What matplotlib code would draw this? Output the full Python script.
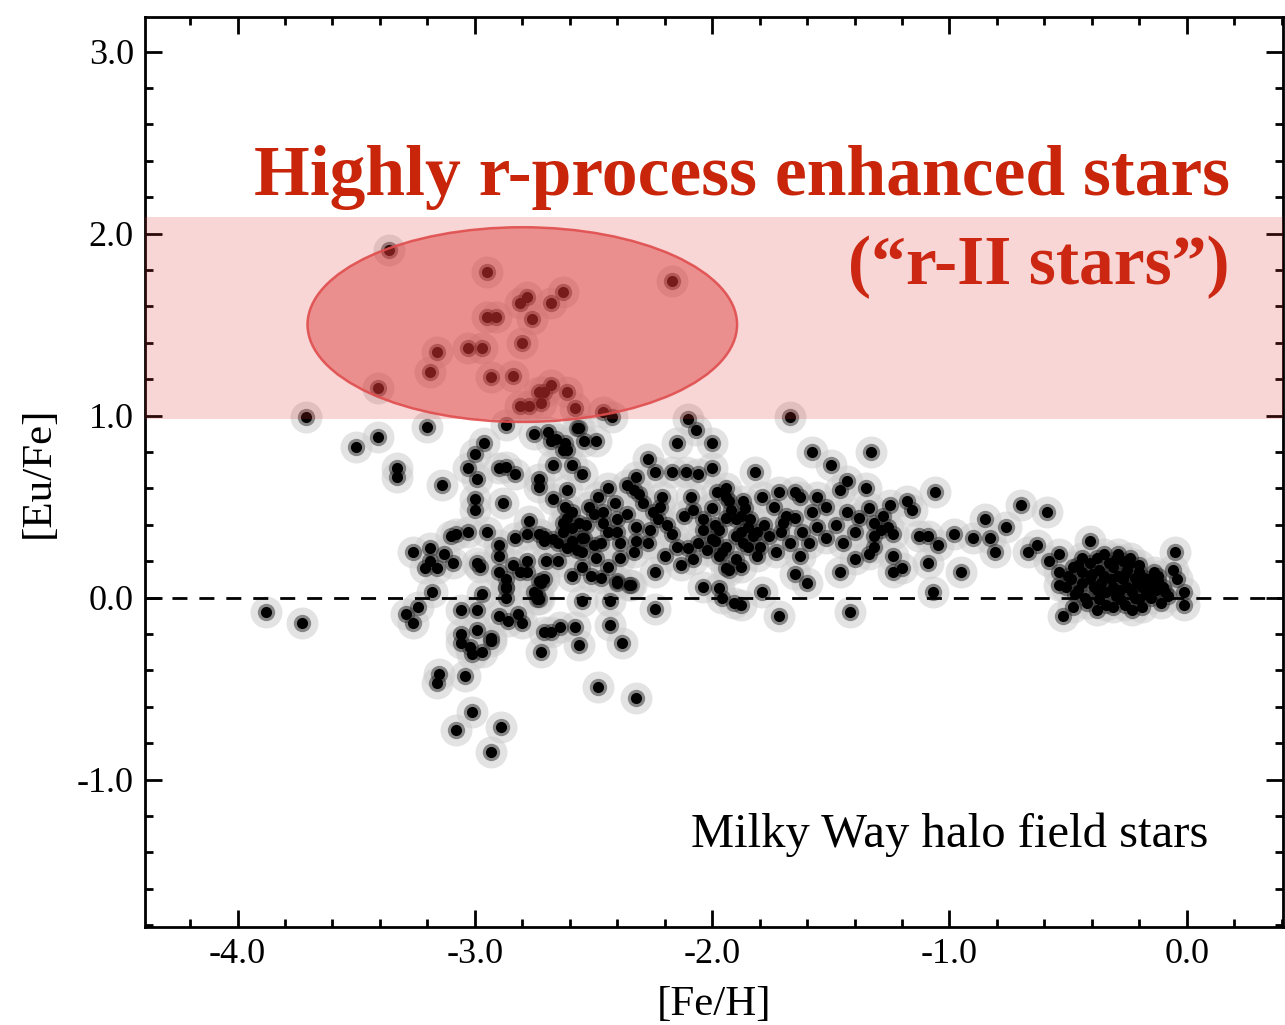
#! /usr/bin/env python
#
# [Eu/Fe] vs [Fe/H] for Milky Way halo field stars, with the r-II region highlighted
#
import numpy as np
import matplotlib
matplotlib.use('Agg')
from matplotlib import pyplot as plt
from matplotlib.patches import Ellipse
from matplotlib.ticker import MultipleLocator, FormatStrFormatter

plt.rcParams['font.family'] = ['Liberation Serif', 'DejaVu Serif']
plt.rcParams['axes.unicode_minus'] = False

# ([Fe/H], [Eu/Fe]) pairs
rII_stars = [(-3.36, 1.91), (-3.16, 1.35), (-3.19, 1.24), (-3.41, 1.15), (-3.03, 1.37),
             (-2.97, 1.37), (-2.95, 1.79), (-2.17, 1.74), (-2.78, 1.65), (-2.81, 1.62),
             (-2.63, 1.68), (-2.68, 1.62), (-2.95, 1.54), (-2.91, 1.54), (-2.76, 1.53),
             (-2.80, 1.40), (-2.93, 1.21), (-2.84, 1.22), (-2.73, 1.13), (-2.68, 1.17),
             (-2.71, 1.13), (-2.61, 1.13), (-2.81, 1.05), (-2.77, 1.05), (-2.72, 1.07),
             (-2.58, 1.04), (-2.46, 1.02), (-2.42, 0.99), (-1.67, 0.99), (-2.10, 0.98),
             (-3.71, 0.99)]

halo_metal_poor = [(-3.88, -0.08), (-3.73, -0.14), (-3.50, 0.83), (-3.41, 0.88), (-3.20, 0.94),
                   (-3.33, 0.71), (-3.33, 0.66), (-3.14, 0.62), (-3.08, 0.35), (-3.10, 0.34),
                   (-3.26, 0.25), (-3.19, 0.27), (-3.13, 0.24), (-3.09, 0.19), (-3.19, 0.20),
                   (-3.21, 0.16), (-3.16, 0.16), (-3.18, 0.03), (-3.24, -0.05), (-3.29, -0.09),
                   (-3.26, -0.14), (-3.06, -0.07), (-3.06, -0.20), (-3.06, -0.25), (-3.15, -0.42),
                   (-3.16, -0.47), (-3.04, -0.43), (-3.01, -0.63), (-3.08, -0.73), (-2.89, -0.71),
                   (-2.93, -0.85), (-2.48, -0.49), (-2.32, -0.55), (-2.99, -0.07), (-2.97, 0.02),
                   (-2.87, 0.05), (-2.87, 0.00), (-2.74, 0.02), (-2.74, -0.01), (-2.72, 0.08),
                   (-2.55, -0.02), (-2.43, -0.02), (-2.40, 0.08), (-2.34, 0.07), (-2.24, -0.06),
                   (-2.90, -0.10), (-2.86, -0.13), (-2.82, -0.09), (-2.80, -0.14), (-2.99, -0.18),
                   (-3.02, -0.27), (-3.01, -0.31), (-2.97, -0.30), (-2.93, -0.22), (-2.93, -0.24),
                   (-2.71, -0.19), (-2.68, -0.19), (-2.64, -0.16), (-2.58, -0.16), (-2.72, -0.30),
                   (-2.56, -0.26), (-2.43, -0.15), (-2.38, -0.25)]

halo_upper = [(-2.87, 0.95), (-2.75, 0.90), (-2.69, 0.91), (-2.68, 0.86), (-2.66, 0.87),
              (-2.62, 0.85), (-2.63, 0.81), (-2.61, 0.81), (-2.57, 0.93), (-2.56, 0.93),
              (-2.54, 0.86), (-2.49, 0.86), (-2.07, 0.92), (-2.15, 0.85), (-2.00, 0.85),
              (-2.27, 0.76), (-2.96, 0.85), (-3.00, 0.79), (-3.03, 0.71), (-2.90, 0.71),
              (-2.87, 0.72), (-2.83, 0.68), (-2.67, 0.73), (-2.59, 0.73), (-2.11, 0.69),
              (-2.00, 0.71), (-2.99, 0.65), (-2.73, 0.65), (-2.73, 0.61), (-2.55, 0.68),
              (-2.61, 0.59), (-2.67, 0.54), (-3.00, 0.54), (-3.00, 0.48), (-2.88, 0.52)]

halo_middle = [(-2.32, 0.66), (-2.36, 0.62), (-2.33, 0.59), (-2.31, 0.57), (-2.24, 0.69),
               (-2.17, 0.69), (-2.06, 0.68), (-2.21, 0.55), (-2.44, 0.60), (-2.48, 0.55),
               (-2.41, 0.52), (-2.52, 0.50), (-2.46, 0.47), (-2.59, 0.47), (-2.61, 0.44),
               (-2.63, 0.41), (-2.56, 0.41), (-2.59, 0.38), (-2.63, 0.36), (-2.50, 0.46),
               (-2.46, 0.41), (-2.40, 0.43), (-2.40, 0.36), (-2.44, 0.36), (-2.32, 0.39),
               (-2.25, 0.47), (-2.23, 0.43), (-2.26, 0.37), (-2.22, 0.50), (-1.94, 0.55),
               (-1.92, 0.48), (-1.94, 0.44), (-2.71, 0.34), (-2.67, 0.32), (-2.59, 0.31),
               (-2.55, 0.33), (-2.61, 0.27), (-2.55, 0.25), (-2.49, 0.22), (-2.39, 0.30),
               (-2.32, 0.31), (-2.33, 0.25), (-2.70, 0.20), (-2.55, 0.17), (-2.44, 0.17),
               (-2.39, 0.22), (-2.59, 0.12), (-2.51, 0.12), (-2.47, 0.11), (-2.40, 0.09),
               (-2.35, 0.07), (-2.71, 0.10), (-2.73, -0.01), (-2.24, 0.14), (-2.17, 0.35),
               (-2.15, 0.28), (-2.10, 0.27), (-2.13, 0.18), (-2.20, 0.23), (-1.99, 0.31),
               (-1.97, 0.23), (-1.93, 0.15), (-1.94, 0.28), (-1.90, 0.34), (-2.09, 0.55),
               (-2.08, 0.48), (-2.04, 0.43), (-2.04, 0.37), (-2.00, 0.49), (-1.98, 0.58),
               (-1.94, 0.60), (-1.93, 0.53), (-1.90, 0.43), (-1.84, 0.43), (-1.83, 0.34),
               (-1.81, 0.23), (-1.85, 0.28), (-1.97, 0.37), (-2.00, 0.32), (-1.96, 0.25),
               (-2.02, 0.26), (-2.08, 0.21), (-1.94, 0.16), (-1.90, 0.21), (-2.04, 0.06),
               (-1.97, 0.05), (-1.96, 0.00), (-1.91, -0.03), (-2.95, 0.36), (-3.03, 0.36),
               (-2.90, 0.29), (-2.90, 0.23), (-2.84, 0.18), (-2.81, 0.14), (-2.90, 0.14),
               (-2.87, 0.10), (-2.87, 0.06), (-2.78, 0.20), (-2.78, 0.14), (-2.73, 0.09),
               (-2.75, 0.03), (-2.99, 0.19), (-2.98, 0.17), (-2.77, 0.42), (-2.83, 0.33),
               (-2.78, 0.35), (-2.73, 0.35), (-2.71, 0.31), (-2.65, 0.30), (-2.59, 0.30),
               (-2.54, 0.33), (-2.57, 0.26), (-2.62, 0.50), (-2.53, 0.40), (-2.47, 0.30),
               (-2.36, 0.46), (-2.29, 0.52), (-2.27, 0.30), (-2.19, 0.40), (-2.12, 0.45),
               (-2.06, 0.30), (-1.99, 0.40), (-2.65, 0.20), (-2.50, 0.29)]

halo_metal_rich = [(-1.58, 0.80), (-1.50, 0.73), (-1.33, 0.80), (-1.82, 0.69), (-1.43, 0.64),
                   (-1.46, 0.59), (-1.35, 0.60), (-1.06, 0.58), (-1.87, 0.53), (-1.79, 0.55),
                   (-1.74, 0.50), (-1.72, 0.58), (-1.65, 0.58), (-1.63, 0.55), (-1.56, 0.55),
                   (-1.52, 0.50), (-1.58, 0.47), (-1.65, 0.44), (-1.69, 0.45), (-1.43, 0.47),
                   (-1.34, 0.49), (-1.25, 0.51), (-1.18, 0.53), (-1.16, 0.48), (-1.88, 0.45),
                   (-1.85, 0.39), (-1.88, 0.36), (-1.81, 0.36), (-1.76, 0.34), (-1.71, 0.36),
                   (-1.62, 0.36), (-1.56, 0.39), (-1.48, 0.40), (-1.40, 0.36), (-1.32, 0.41),
                   (-1.29, 0.37), (-1.26, 0.39), (-1.24, 0.35), (-1.32, 0.34), (-1.87, 0.30),
                   (-1.80, 0.28), (-1.73, 0.25), (-1.88, 0.17), (-1.63, 0.23), (-1.65, 0.13),
                   (-1.60, 0.08), (-1.46, 0.14), (-1.40, 0.21), (-1.34, 0.24), (-1.32, 0.28),
                   (-1.24, 0.23), (-1.24, 0.14), (-1.20, 0.16), (-1.13, 0.34), (-1.09, 0.34),
                   (-1.05, 0.29), (-1.09, 0.19), (-1.07, 0.03), (-0.98, 0.35), (-0.90, 0.33),
                   (-0.85, 0.43), (-0.83, 0.33), (-0.81, 0.25), (-0.76, 0.39), (-0.95, 0.14),
                   (-1.79, 0.03), (-1.88, -0.04), (-1.72, -0.10), (-1.42, -0.08), (-0.70, 0.51),
                   (-0.59, 0.47), (-0.67, 0.25), (-0.63, 0.29), (-0.58, 0.20), (-0.54, 0.24),
                   (-0.41, 0.31), (-0.05, 0.25), (-0.06, 0.15), (-0.04, 0.10), (-0.01, 0.03),
                   (-0.01, -0.04), (-0.52, -0.10), (-0.48, -0.05), (-1.86, 0.49), (-1.78, 0.40),
                   (-1.70, 0.41), (-1.67, 0.30), (-1.59, 0.30), (-1.52, 0.33), (-1.45, 0.30),
                   (-1.38, 0.44), (-1.28, 0.45)]

disk_clump = [(-0.54, 0.14), (-0.54, 0.07), (-0.48, 0.17), (-0.44, 0.22), (-0.35, 0.24),
              (-0.29, 0.24), (-0.24, 0.22), (-0.38, -0.07), (-0.31, -0.05), (-0.23, -0.07),
              (-0.19, -0.05), (-0.11, -0.03), (-0.08, 0.01), (-0.42, -0.03), (-0.46, 0.04),
              (-0.41, 0.10), (-0.37, 0.15), (-0.31, 0.17), (-0.25, 0.15), (-0.20, 0.14),
              (-0.16, 0.10), (-0.13, 0.04), (-0.17, 0.03), (-0.23, 0.03), (-0.28, 0.04),
              (-0.34, 0.03), (-0.38, 0.04), (-0.44, 0.08), (-0.49, 0.10), (-0.32, 0.10),
              (-0.27, 0.10), (-0.21, 0.08), (-0.28, -0.01), (-0.20, -0.01), (-0.37, -0.01),
              (-0.24, 0.19), (-0.41, 0.19), (-0.51, 0.06), (-0.14, 0.14), (-0.10, 0.06),
              (-0.44, 0.14), (-0.29, 0.12), (-0.19, 0.06), (-0.25, 0.06), (-0.31, 0.06),
              (-0.50, 0.12), (-0.47, 0.02), (-0.43, 0.00), (-0.39, 0.06), (-0.35, 0.12),
              (-0.33, 0.19), (-0.27, 0.20), (-0.22, 0.11), (-0.18, 0.11), (-0.15, 0.00),
              (-0.12, 0.09), (-0.09, 0.03), (-0.26, -0.04), (-0.34, -0.04), (-0.40, 0.13),
              (-0.36, 0.08), (-0.30, 0.01), (-0.22, 0.00), (-0.16, 0.07), (-0.26, 0.13),
              (-0.46, 0.18), (-0.38, 0.22), (-0.30, 0.21), (-0.20, 0.18), (-0.12, 0.12)]

band_lo, band_hi = 0.98, 2.09
ell_center, ell_width, ell_height = (-2.80, 1.50), 1.81, 1.07

pts = np.array(rII_stars + halo_metal_poor + halo_upper + halo_middle
               + halo_metal_rich + disk_clump)
feh, eufe = pts[:, 0], pts[:, 1]

fig = plt.figure(figsize=(12.85, 10.25), dpi=100)
ax = fig.add_axes([0.1128, 0.0956, 0.8856, 0.8878])

# soft-edged symbols: grey halo, dark fringe, black core
ax.plot(feh, eufe, 'o', ms=23, mfc='#cccccc', mec='none', alpha=0.55, zorder=1)
ax.plot(feh, eufe, 'o', ms=12.5, mfc='#2a2a2a', mec='none', alpha=0.5, zorder=1.5)
ax.plot(feh, eufe, 'o', ms=8, mfc='k', mec='none', zorder=2)

ax.axhline(0.0, color='k', ls=(0, (5.4, 4.3)), lw=2, zorder=3)

ax.axhspan(band_lo, band_hi, color=(0.87, 0.2, 0.2), alpha=0.2, lw=0, zorder=4)
ell = Ellipse(ell_center, ell_width, ell_height, fc=(0.85, 0.2, 0.2, 0.44),
              ec=(0.88, 0.3, 0.3, 0.9), lw=1.8, zorder=5)
ax.add_patch(ell)

ax.text(0.18, 2.21, 'Highly r-process enhanced stars', ha='right', va='baseline',
        fontsize=51.5, fontweight='bold', color='#c8250a', zorder=6)
ax.text(0.18, 1.72, '(\u201cr-II stars\u201d)', ha='right', va='baseline',
        fontsize=50, fontweight='bold', color='#c8250a', zorder=3.5)
ax.text(0.09, -1.37, 'Milky Way halo field stars', ha='right', va='baseline',
        fontsize=35, color='k', zorder=6)

ax.set_xlim(-4.39, 0.405)
ax.set_ylim(-1.81, 3.19)
ax.xaxis.set_major_locator(MultipleLocator(1.0))
ax.xaxis.set_minor_locator(MultipleLocator(0.2))
ax.yaxis.set_major_locator(MultipleLocator(1.0))
ax.yaxis.set_minor_locator(MultipleLocator(0.2))
ax.xaxis.set_major_formatter(FormatStrFormatter('%.1f'))
ax.yaxis.set_major_formatter(FormatStrFormatter('%.1f'))
ax.tick_params(which='both', direction='in', top=True, right=True, width=2,
               labelsize=26, pad=8)
ax.tick_params(which='major', length=12)
ax.tick_params(which='minor', length=6)
for s in ax.spines.values():
    s.set_linewidth(2)

ax.set_xlabel('[Fe/H]', fontsize=31, labelpad=10)
ax.set_ylabel('[Eu/Fe]', fontsize=31, labelpad=14)

fig.savefig('out.png', dpi=100)
